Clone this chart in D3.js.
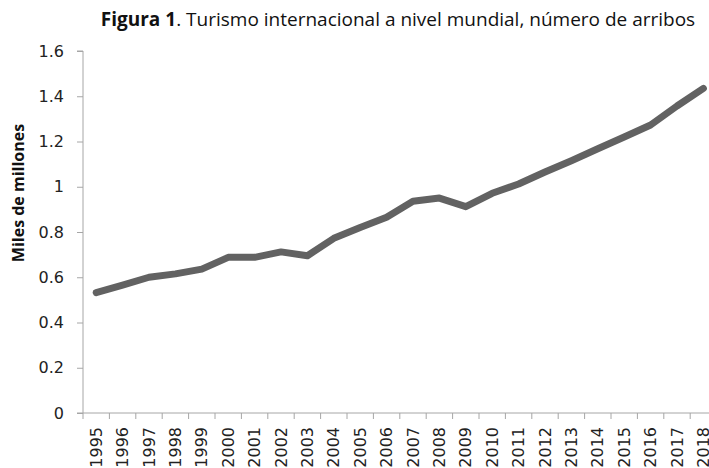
<!DOCTYPE html>
<html>
<head>
<meta charset="utf-8">
<script src="https://cdn.jsdelivr.net/npm/d3@7"></script>
<style>
  body { margin: 0; background: #fff; }
  svg { display: block; }
</style>
</head>
<body>
<svg id="chart"></svg>
<script>
const width = 709, height = 468;
const margin = {top: 51, left: 83, bottom: 55};

// DATA
const years = ["1995","1996","1997","1998","1999","2000","2001","2002","2003","2004","2005","2006",
               "2007","2008","2009","2010","2011","2012","2013","2014","2015","2016","2017","2018"];
const arrivals = [0.532, 0.565, 0.600, 0.615, 0.636, 0.688, 0.688, 0.712, 0.695, 0.772, 0.820, 0.865,
                  0.936, 0.950, 0.912, 0.971, 1.012, 1.065, 1.115, 1.168, 1.220, 1.273, 1.357, 1.435];
const yTicks = [0, 0.2, 0.4, 0.6, 0.8, 1, 1.2, 1.4, 1.6];

const svg = d3.select("#chart")
    .attr("width", width)
    .attr("height", height);

const x = d3.scaleBand()
    .domain(years)
    .range([margin.left, margin.left + 26.4 * years.length]);
const y = d3.scaleLinear()
    .domain([0, 1.6])
    .range([height - margin.bottom, margin.top]);

// title
const title = svg.append("text")
    .attr("x", 398)
    .attr("y", 26)
    .attr("text-anchor", "middle")
    .attr("font-family", "'Open Sans', sans-serif")
    .attr("font-size", 19)
    .attr("fill", "#111");
title.append("tspan").attr("font-weight", "bold").text("Figura 1");
title.append("tspan").text(". Turismo internacional a nivel mundial, número de arribos");

// y axis
const yAxis = svg.append("g")
    .attr("transform", `translate(${margin.left},0)`)
    .call(d3.axisLeft(y).tickValues(yTicks).tickSize(6).tickPadding(13).tickFormat(d => d));
yAxis.selectAll("path, line").attr("stroke", "#a6a6a6");
yAxis.selectAll("text")
    .attr("font-family", "'DejaVu Sans', sans-serif")
    .attr("font-size", 16)
    .attr("fill", "#222");
yAxis.select(".domain").attr("d", `M-6,${y(1.6)}H0V${y(0)}`);

// x axis
const xAxis = svg.append("g")
    .attr("transform", `translate(0,${y(0)})`)
    .call(d3.axisBottom(x).tickSize(0).tickPadding(0));
xAxis.select(".domain").attr("stroke", "#a6a6a6").attr("d", `M${margin.left - 6},0H${width + 20}`);
xAxis.selectAll(".tick text")
    .attr("font-family", "'DejaVu Sans', sans-serif")
    .attr("font-size", 16)
    .attr("fill", "#222")
    .attr("transform", "rotate(-90)")
    .attr("text-anchor", "end")
    .attr("x", -14)
    .attr("y", 0)
    .attr("dy", "0.35em");
// tick marks between categories
svg.append("g")
    .selectAll("line")
    .data(years)
    .join("line")
    .attr("x1", d => x(d))
    .attr("x2", d => x(d))
    .attr("y1", y(0))
    .attr("y2", y(0) + 6)
    .attr("stroke", "#a6a6a6");

// y axis title
svg.append("text")
    .attr("transform", "translate(24,193) rotate(-90)")
    .attr("text-anchor", "middle")
    .attr("font-family", "'Open Sans', sans-serif")
    .attr("font-weight", "bold")
    .attr("font-size", 16)
    .attr("fill", "#111")
    .text("Miles de millones");

// line
svg.append("path")
    .datum(arrivals)
    .attr("fill", "none")
    .attr("stroke", "#626262")
    .attr("stroke-width", 7)
    .attr("stroke-linejoin", "round")
    .attr("stroke-linecap", "round")
    .attr("d", d3.line()
        .x((d, i) => x(years[i]) + x.bandwidth() / 2)
        .y(d => y(d)));
</script>
</body>
</html>
